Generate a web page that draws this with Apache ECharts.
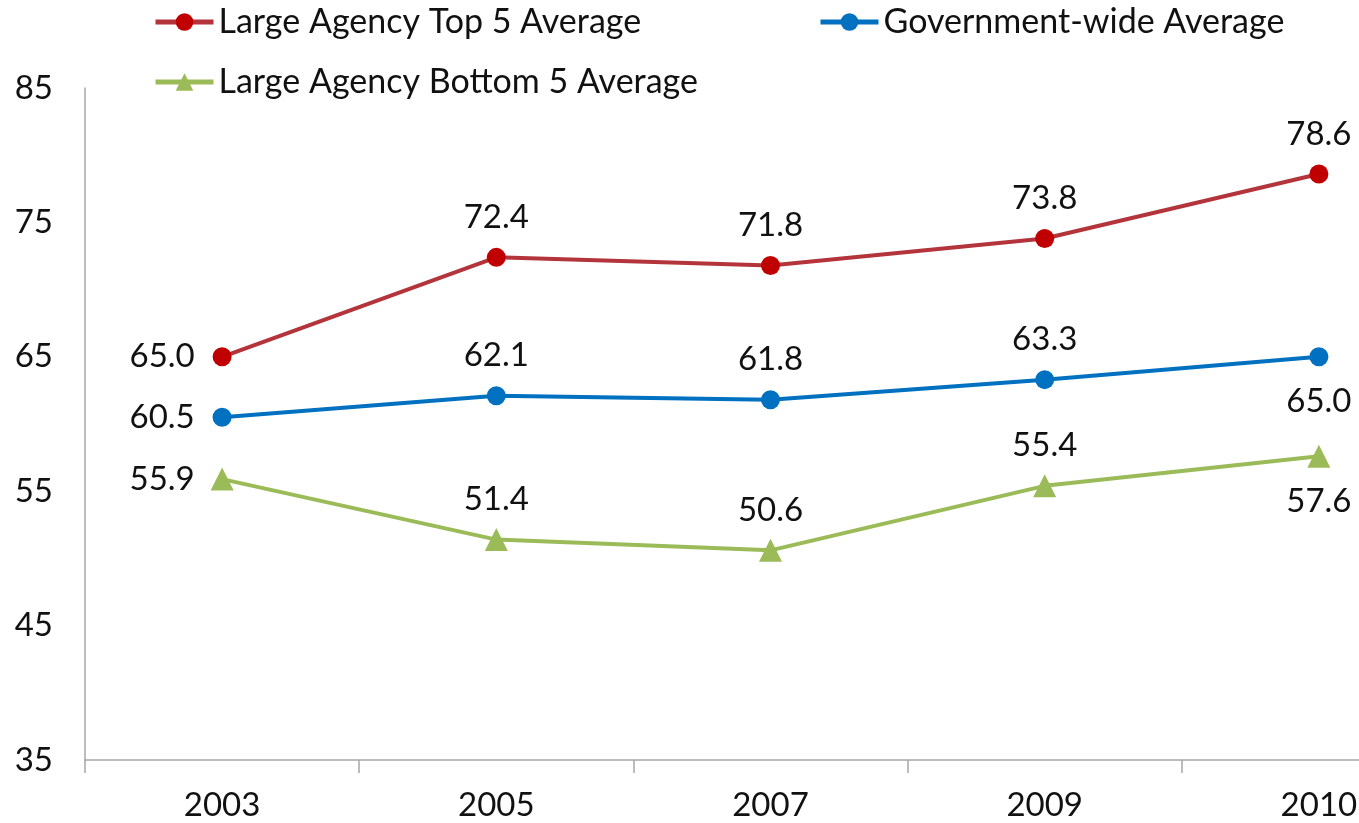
<!DOCTYPE html>
<html>
<head>
<meta charset="utf-8">
<script src="https://cdn.jsdelivr.net/npm/echarts@6/dist/echarts.min.js"></script>
<style>
html,body{margin:0;padding:0;background:#fff;overflow:hidden;width:1359px;height:823px;}
#chart{width:1456px;height:823px;}
</style>
</head>
<body>
<div id="chart"></div>
<script>
const years = ['2003', '2005', '2007', '2009', '2010'];
const topFive = [65.0, 72.4, 71.8, 73.8, 78.6];
const govWide = [60.5, 62.1, 61.8, 63.3, 65.0];
const bottomFive = [55.9, 51.4, 50.6, 55.4, 57.6];
const yTicks = [35, 45, 55, 65, 75, 85];

const FONT = 'Lato';
const FS = 33;

// label placement per point: 'L' left, 'T' above, 'B' below
const placeTop = ['L', 'T', 'T', 'T', 'T'];
const placeGov = ['L', 'T', 'T', 'T', 'B'];
const placeBot = ['L', 'T', 'T', 'T', 'B'];

function offsetFor(p) {
  if (p === 'L') return [-60, 0];
  if (p === 'T') return [0, -40];
  return [0, 45];
}
function buildData(vals, places) {
  return vals.map((v, i) => ({
    value: v,
    label: { offset: offsetFor(places[i]) }
  }));
}

const labelBase = {
  show: true,
  position: 'inside',
  fontFamily: FONT,
  fontSize: FS,
  color: '#111',
  formatter: p => p.value.toFixed(1)
};

const legendBase = {
  padding: 0,
  itemWidth: 58,
  itemHeight: 22,
  lineStyle: { width: 5 },
  textStyle: { fontFamily: FONT, fontSize: 34, color: '#111', lineHeight: 36 }
};

const chart = echarts.init(document.getElementById('chart'), null, {renderer: 'canvas'});
chart.setOption({
  backgroundColor: '#ffffff',
  animation: false,
  textStyle: { fontFamily: FONT },
  legend: [
    Object.assign({}, legendBase, { data: ['Large Agency Top 5 Average'], left: 153, top: 4 }),
    Object.assign({}, legendBase, { data: ['Government-wide Average'], left: 818, top: 4 }),
    Object.assign({}, legendBase, { data: ['Large Agency Bottom 5 Average'], left: 153, top: 64 })
  ],
  grid: { left: 85, top: 88, bottom: 63, right: 0, containLabel: false },
  xAxis: {
    type: 'category',
    data: years,
    boundaryGap: true,
    axisLine: { show: true, lineStyle: { color: '#A6A6A6', width: 1.5 } },
    axisTick: { show: true, length: 13, alignWithLabel: false, lineStyle: { color: '#A6A6A6', width: 1.5 } },
    axisLabel: { fontFamily: FONT, fontSize: FS, color: '#111', margin: 29 },
    splitLine: { show: false }
  },
  yAxis: {
    type: 'value',
    min: yTicks[0],
    max: yTicks[yTicks.length - 1],
    interval: yTicks[1] - yTicks[0],
    axisLine: { show: true, lineStyle: { color: '#A6A6A6', width: 1.5 } },
    axisTick: { show: false },
    axisLabel: { fontFamily: FONT, fontSize: FS, color: '#111', margin: 32 },
    splitLine: { show: false }
  },
  series: [
    {
      name: 'Large Agency Top 5 Average',
      type: 'line',
      data: buildData(topFive, placeTop),
      symbol: 'circle',
      symbolSize: 19,
      lineStyle: { color: '#B3343A', width: 4 },
      itemStyle: { color: '#C00000' },
      label: labelBase
    },
    {
      name: 'Government-wide Average',
      type: 'line',
      data: buildData(govWide, placeGov),
      symbol: 'circle',
      symbolSize: 19,
      lineStyle: { color: '#0070C0', width: 4 },
      itemStyle: { color: '#0070C0' },
      label: labelBase
    },
    {
      name: 'Large Agency Bottom 5 Average',
      type: 'line',
      data: buildData(bottomFive, placeBot),
      symbol: 'triangle',
      symbolSize: 23,
      lineStyle: { color: '#9BBB59', width: 4 },
      itemStyle: { color: '#9BBB59' },
      label: labelBase
    }
  ]
});
</script>
</body>
</html>
